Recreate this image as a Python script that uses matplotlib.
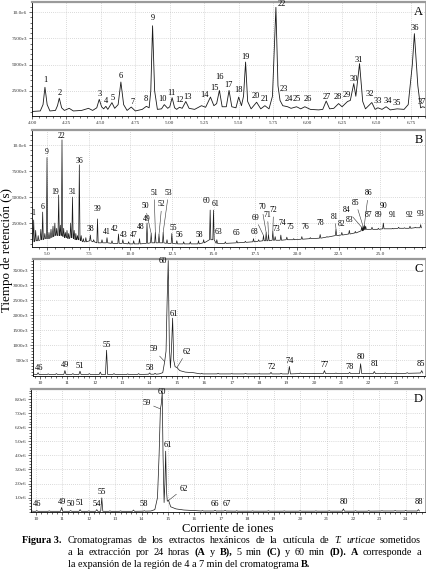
import matplotlib
matplotlib.use('Agg')
import matplotlib.pyplot as plt
from matplotlib.ticker import AutoMinorLocator

plt.rcParams.update({
    'font.family': 'Liberation Serif',
    'mathtext.fontset': 'custom',
    'mathtext.rm': 'Liberation Serif',
    'mathtext.it': 'Liberation Serif:italic',
    'mathtext.bf': 'Liberation Serif:bold',
})

# ---------------- datos (intensidad en millones) ----------------
# A: traza ampliada 4-7 min
a_t = [4.00, 4.06, 4.08, 4.094, 4.11, 4.13, 4.17, 4.185, 4.198, 4.215, 4.235, 4.27, 4.30, 4.36,
       4.41, 4.44, 4.47, 4.488, 4.505, 4.52, 4.536, 4.55, 4.58, 4.60, 4.625, 4.645, 4.665, 4.69,
       4.72, 4.75, 4.80, 4.83, 4.85, 4.862, 4.875, 4.89, 4.91, 4.94, 4.96, 4.985, 5.00, 5.017,
       5.035, 5.05, 5.07, 5.09, 5.116, 5.14, 5.18, 5.23, 5.26, 5.295, 5.32, 5.34, 5.36, 5.38,
       5.41, 5.43, 5.45, 5.48, 5.50, 5.52, 5.535, 5.55, 5.565, 5.59, 5.63, 5.66, 5.69, 5.72,
       5.745, 5.77, 5.785, 5.80, 5.82, 5.855, 5.88, 5.92, 5.95, 5.98, 6.02, 6.08, 6.11, 6.135,
       6.16, 6.19, 6.225, 6.25, 6.29, 6.31, 6.335, 6.35, 6.377, 6.40, 6.42, 6.466, 6.49, 6.51,
       6.54, 6.57, 6.60, 6.65, 6.70, 6.73, 6.76, 6.775, 6.80, 6.82, 6.835, 6.86]
a_v = [0.55, 0.60, 1.20, 2.85, 1.20, 0.60, 0.65, 1.10, 1.82, 0.90, 0.65, 0.85, 0.60, 0.65,
       0.85, 0.65, 0.90, 1.70, 1.00, 0.80, 1.04, 0.75, 1.39, 0.85, 1.20, 3.35, 1.20, 0.65,
       0.97, 0.60, 0.75, 1.04, 0.90, 2.50, 8.70, 2.50, 0.75, 0.80, 1.20, 0.85, 1.00, 1.86,
       0.90, 0.75, 0.95, 0.85, 1.50, 0.85, 0.75, 1.10, 0.95, 1.92, 1.10, 1.30, 2.55, 1.00,
       1.00, 2.55, 1.00, 0.90, 1.92, 1.10, 2.00, 5.25, 1.50, 0.80, 1.43, 0.80, 1.10, 0.80,
       2.00, 10.45, 3.00, 1.60, 1.10, 1.00, 0.85, 1.00, 0.80, 1.00, 0.75, 0.70, 0.75, 1.54,
       0.80, 0.85, 1.30, 1.00, 1.50, 1.60, 3.20, 2.00, 5.10, 1.50, 0.80, 1.40, 0.75, 0.90,
       0.75, 1.00, 0.70, 0.80, 0.75, 1.20, 5.00, 7.95, 3.00, 0.90, 1.00, 0.90]
a_lab = ['1', '2', '3', '4', '5', '6', '7', '8', '9', '10', '11', '12', '13', '14', '15', '16', '17',
         '18', '19', '20', '21', '22', '23', '24', '25', '26', '27', '28', '29', '30', '31', '32',
         '33', '34', '35', '36', '37']
a_lab_t = [4.094, 4.198, 4.488, 4.536, 4.589, 4.645, 4.727, 4.824, 4.874, 4.947, 5.012, 5.072,
           5.128, 5.254, 5.326, 5.362, 5.428, 5.497, 5.546, 5.623, 5.686, 5.811, 5.824, 5.86,
           5.921, 6.0, 6.138, 6.216, 6.284, 6.332, 6.375, 6.448, 6.513, 6.581, 6.651, 6.779, 6.828]
a_lab_v = [3.55, 2.34, 2.19, 1.55, 1.86, 3.96, 1.48, 1.71, 9.47, 1.71, 2.34, 1.65, 1.90, 2.12,
           2.76, 3.86, 3.07, 2.60, 5.70, 2.03, 1.71, 10.75, 2.66, 1.71, 1.74, 1.74, 1.96, 1.96,
           2.12, 3.64, 5.45, 2.19, 1.55, 1.55, 1.39, 8.46, 1.48]

# B: cromatograma completo (tiempo, maximo, linea base)
b_rt = [4.2, 4.32, 4.47, 4.63, 4.74, 4.87, 5.0, 5.12, 5.24, 5.36, 5.47, 5.58, 5.70, 5.80, 5.90,
        6.0, 6.1, 6.2, 6.3, 6.42, 6.53, 6.63, 6.73, 6.83, 6.94, 7.05, 7.18, 7.33, 7.6, 7.8, 8.03,
        8.3, 8.6, 8.9, 9.29, 9.55, 9.9, 10.2, 10.55, 11.0, 11.25, 11.5, 11.72, 11.97, 12.2, 12.49,
        12.79, 13.2, 13.6, 14.09, 14.4, 14.79, 14.99, 15.19, 15.7, 16.39, 16.9, 17.39, 17.7,
        17.99, 18.15, 18.29, 18.55, 18.69, 19.03, 19.39, 19.8, 20.29, 20.8, 21.39, 21.8, 22.34,
        22.69, 23.14, 23.5, 23.88, 23.96, 24.04, 24.12, 24.5, 24.88, 25.18, 25.74, 26.1, 26.45,
        26.78, 27.1, 27.42]
b_top = [2.8, 1.8, 1.3, 1.9, 3.56, 1.5, 8.8, 1.6, 1.9, 2.2, 2.5, 2.0, 5.2, 2.3, 10.5,
         2.0, 1.6, 1.8, 1.5, 2.5, 5.0, 1.8, 1.5, 1.3, 8.1, 1.3, 1.0, 1.1, 1.35, 0.9, 2.9,
         0.9, 1.1, 0.8, 1.45, 0.9, 0.7, 0.8, 1.0, 2.5, 1.5, 1.6, 1.4, 1.6, 0.9, 1.5,
         0.8, 0.7, 0.7, 0.8, 0.9, 3.75, 3.75, 0.9, 0.7, 0.8, 0.75, 1.0, 0.9,
         1.3, 1.6, 1.4, 1.7, 1.2, 1.35, 1.15, 1.0, 1.2, 1.1, 1.4, 1.2, 1.9,
         1.6, 1.8, 1.7, 2.1, 2.2, 2.3, 2.2, 2.1, 2.0, 2.5, 2.0, 2.1, 2.05,
         2.2, 2.1, 2.35]
b_base = [0.7, 0.8, 0.8, 0.9, 0.9, 1.0, 1.0, 1.0, 1.1, 1.2, 1.3, 1.3, 1.3, 1.3, 1.3,
          1.2, 1.1, 1.1, 1.0, 1.1, 1.1, 1.0, 0.9, 0.9, 0.9, 0.8, 0.7, 0.7, 0.8, 0.7, 0.6,
          0.6, 0.6, 0.55, 0.55, 0.55, 0.5, 0.5, 0.5, 0.55, 0.6, 0.6, 0.6, 0.6, 0.55, 0.55,
          0.5, 0.5, 0.5, 0.5, 0.6, 0.9, 0.9, 0.55, 0.55, 0.6, 0.65, 0.7, 0.75,
          0.8, 0.8, 0.8, 0.85, 0.85, 0.85, 0.9, 0.9, 0.95, 1.0, 1.05, 1.15, 1.3,
          1.35, 1.45, 1.55, 1.75, 1.8, 1.85, 1.9, 1.9, 1.9, 1.95, 1.95, 2.0, 2.0,
          2.0, 2.05, 2.05]
b_lab = ['1', '6', '9', '19', '22', '31', '36', '38', '39', '41', '42', '43', '47', '48', '49',
         '50', '51', '52', '53', '55', '56', '58', '60', '61', '63', '65', '68', '69', '70', '71',
         '72', '73', '74', '75', '76', '78', '81', '82', '83', '84', '85', '86', '87', '89', '90',
         '91', '92', '93']
b_lab_t = [4.20, 4.74, 5.0, 5.46, 5.90, 6.53, 6.94, 7.6, 8.03, 8.6, 9.05, 9.59, 10.19, 10.64, 11.0,
           10.89, 11.43, 11.89, 12.29, 12.55, 12.95, 14.15, 14.55, 15.09, 15.29, 16.39, 17.45, 17.49,
           17.89, 18.23, 18.59, 18.79, 19.15, 19.59, 20.49, 21.39, 22.28, 22.69, 23.18, 22.99, 23.53,
           24.28, 24.28, 24.88, 25.18, 25.74, 26.78, 27.42]
b_lab_v = [3.46, 4.0, 9.3, 5.5, 10.9, 5.5, 8.5, 1.9, 3.9, 1.6, 1.9, 1.35, 1.35, 2.1, 2.9,
           4.1, 5.4, 4.3, 5.4, 2.0, 1.4, 1.4, 4.6, 4.3, 1.6, 1.55, 1.6, 3.0,
           4.0, 3.3, 3.75, 1.9, 2.5, 2.1, 2.1, 2.5, 3.1, 2.4, 2.8, 3.75, 4.45,
           5.35, 3.3, 3.3, 4.1, 3.3, 3.3, 3.4]
# lineas guia: etiqueta -> pico
b_lead = {'50': (11.25, 1.5), '51': (11.5, 1.6), '52': (11.72, 1.4), '53': (11.97, 1.6),
          '69': (17.99, 1.3), '70': (18.15, 1.6), '71': (18.29, 1.4), '72': (18.55, 1.7),
          '81': (22.34, 1.9), '84': (23.88, 2.1), '85': (23.96, 2.2), '86': (24.04, 2.3)}

# C: extraccion 5 min
c_rt = [9.8, 9.93, 10.3, 10.6, 10.91, 11.2, 11.46, 11.8, 12.2, 12.43, 12.7, 13.2, 13.6, 14.0,
        14.2, 15.9, 16.5, 17.0, 17.5, 18.0, 18.43, 18.8, 19.1, 19.5, 20.0, 20.38, 20.8, 21.3,
        21.7, 22.2, 22.6, 23.0, 23.4, 23.93]
c_top = [0.03, 0.08, 0.04, 0.05, 0.15, 0.05, 0.13, 0.05, 0.10, 0.83, 0.05, 0.04, 0.05, 0.07,
         0.06, 0.06, 0.06, 0.05, 0.06, 0.05, 0.09, 0.06, 0.29, 0.07, 0.06, 0.15, 0.07, 0.09,
         0.38, 0.12, 0.07, 0.07, 0.08, 0.15]
c_base = [0.02, 0.02, 0.02, 0.02, 0.02, 0.02, 0.02, 0.02, 0.02, 0.02, 0.02, 0.02, 0.02, 0.03,
          0.03, 0.04, 0.04, 0.04, 0.04, 0.04, 0.04, 0.04, 0.04, 0.05, 0.05, 0.05, 0.05, 0.05,
          0.05, 0.05, 0.05, 0.05, 0.06, 0.07]
c_clu_t = [14.35, 14.48, 14.55, 14.60, 14.64, 14.68, 14.72, 14.76, 14.80, 14.84, 14.88, 14.93,
           15.0, 15.1, 15.3, 15.6]
c_clu_v = [0.04, 0.08, 0.45, 0.80, 2.50, 3.82, 1.00, 0.24, 0.90, 1.90, 0.50, 0.28,
           0.25, 0.15, 0.10, 0.08]
c_lab = ['46', '49', '51', '55', '58', '59', '60', '61', '62', '72', '74', '77', '78', '80', '81', '85']
c_lab_t = [9.96, 10.91, 11.46, 12.43, 14.0, 14.14, 14.5, 14.87, 15.35, 18.46, 19.1, 20.4, 21.3,
           21.7, 22.22, 23.9]
c_lab_v = [0.25, 0.34, 0.30, 1.00, 0.25, 0.86, 3.80, 2.04, 0.78, 0.27, 0.46, 0.33, 0.28, 0.61,
           0.38, 0.38]
c_lead = {'59': (14.55, 0.45), '62': (15.0, 0.25)}

# D: extraccion 60 min
d_rt = [9.85, 10.03, 10.5, 10.97, 11.31, 11.67, 12.0, 12.3, 12.49, 12.8, 13.2, 13.69, 14.1,
        16.3, 16.78, 17.16, 17.6, 18.2, 18.8, 19.4, 20.0, 20.6, 21.1, 21.64, 22.1, 22.6, 23.1,
        23.6, 24.0, 24.48]
d_top = [0.05, 0.08, 0.06, 0.30, 0.08, 0.15, 0.06, 0.15, 0.98, 0.06, 0.06, 0.12, 0.07,
         0.08, 0.10, 0.09, 0.07, 0.06, 0.07, 0.06, 0.07, 0.06, 0.07, 0.20, 0.07, 0.08, 0.07,
         0.08, 0.09, 0.15]
d_base = [0.03, 0.03, 0.03, 0.03, 0.03, 0.03, 0.03, 0.03, 0.03, 0.03, 0.03, 0.03, 0.04,
          0.05, 0.05, 0.05, 0.04, 0.04, 0.04, 0.04, 0.04, 0.04, 0.04, 0.04, 0.04, 0.04, 0.05,
          0.05, 0.05, 0.05]
d_clu_t = [14.35, 14.50, 14.60, 14.66, 14.71, 14.74, 14.78, 14.81, 14.85, 14.88, 14.91, 14.94,
           14.97, 15.02, 15.10, 15.30, 15.60, 16.00]
d_clu_v = [0.05, 0.15, 1.00, 4.00, 7.30, 7.60, 8.45, 4.00, 0.65, 2.00, 4.30, 1.50,
           0.75, 0.80, 0.35, 0.20, 0.12, 0.08]
d_lab = ['46', '49', '50', '51', '54', '55', '58', '59', '60', '61', '62', '66', '67', '80', '88']
d_lab_t = [10.03, 10.97, 11.31, 11.67, 12.3, 12.49, 14.1, 14.19, 14.78, 14.99, 15.58, 16.78,
           17.22, 21.67, 24.48]
d_lab_v = [0.55, 0.70, 0.55, 0.60, 0.55, 1.40, 0.55, 7.70, 8.50, 4.70, 1.64, 0.57, 0.57, 0.70, 0.70]
d_lead = {'59': (14.71, 7.3), '62': (15.02, 0.8)}

# leyenda: palabras de las lineas justificadas, (texto, estilo)
cap_l1 = [('Cromatogramas', 'n'), ('de', 'n'), ('los', 'n'), ('extractos', 'n'), ('hexánicos', 'n'),
          ('de', 'n'), ('la', 'n'), ('cutícula', 'n'), ('de', 'n'), ('T.', 'i'), ('urticae', 'i'),
          ('sometidos', 'n')]
cap_l2 = [('a', 'n'), ('la', 'n'), ('extracción', 'n'), ('por', 'n'), ('24', 'n'), ('horas', 'n'),
          ('(A', 'b'), ('y', 'n'), ('B),', 'b'), ('5', 'n'), ('min', 'n'), ('(C)', 'b'), ('y', 'n'),
          ('60', 'n'), ('min', 'n'), ('(D).', 'b'), ('A', 'b'), ('corresponde', 'n'), ('a', 'n')]
cap_l3 = 'la expansión de la región de 4 a 7 min del cromatograma'


def spike_trace(rt, top, base, w, extra_t=(), extra_v=()):
    pts = []
    for r, h, b in zip(rt, top, base):
        pts += [(r - w, b), (r, h), (r + w, b)]
    pts += list(zip(extra_t, extra_v))
    pts.sort()
    return [p[0] for p in pts], [p[1] for p in pts]


def style_axes(ax, xt, xtl, yt, ytl, xlim, ylim, letter):
    ax.set_xlim(*xlim)
    ax.set_ylim(*ylim)
    ax.set_xticks(xt)
    ax.set_xticklabels(xtl)
    ax.set_yticks(yt)
    ax.set_yticklabels(ytl)
    ax.xaxis.set_minor_locator(AutoMinorLocator(5))
    ax.yaxis.set_minor_locator(AutoMinorLocator(5))
    ax.tick_params(which='major', length=2.2, width=0.5, labelsize=3.8, pad=1.2, colors='#333333')
    ax.tick_params(which='minor', length=1.2, width=0.4)
    ax.grid(True, color='#b8b8b8', linestyle=(0, (1, 2)), linewidth=0.5)
    ax.spines['top'].set_color('#9a9a9a')
    ax.spines['top'].set_linewidth(1.6)
    ax.spines['right'].set_color('#9a9a9a')
    ax.spines['right'].set_linewidth(0.6)
    ax.spines['left'].set_linewidth(0.6)
    ax.spines['bottom'].set_linewidth(0.6)
    ax.text(0.995, 0.965, letter, transform=ax.transAxes, ha='right', va='top', fontsize=9)


def put_labels(ax, labs, lt, lv, leads, fs):
    for lab, t, v in zip(labs, lt, lv):
        if lab in leads:
            ax.annotate(lab, xy=leads[lab], xytext=(t, v), ha='center', va='center',
                        fontsize=fs, annotation_clip=False,
                        arrowprops=dict(arrowstyle='-', lw=0.4, color='#333333', shrinkA=0, shrinkB=0))
        else:
            ax.text(t, v, lab, ha='center', va='center', fontsize=fs, clip_on=False)


fig = plt.figure(figsize=(4.27, 5.80), dpi=100)
W, H = 427.0, 580.0
axA = fig.add_axes([32 / W, 1 - 116 / H, 393 / W, 114 / H])
axB = fig.add_axes([32 / W, 1 - 247 / H, 393 / W, 117 / H])
axC = fig.add_axes([33 / W, 1 - 376 / H, 392 / W, 117 / H])
axD = fig.add_axes([31 / W, 1 - 512 / H, 394 / W, 123 / H])

lc = '#1a1a1a'
ab_yt = [2.5, 5.0, 7.5, 10.0]
ab_ytl = ['2500e3', '5000e3', '7500e3', '10.0e6']

# A
axA.plot(a_t, a_v, color=lc, lw=0.6)
a_xt = [4.0 + 0.25 * i for i in range(12)]
style_axes(axA, a_xt, ['%.2f' % x for x in a_xt], ab_yt, ab_ytl, (4.0, 6.852), (0.12, 10.96), 'A')
put_labels(axA, a_lab, a_lab_t, a_lab_v, {}, 6)

# B
bt, bv = spike_trace(b_rt, b_top, b_base, 0.04)
axB.plot(bt, bv, color=lc, lw=0.5)
b_xt = [5.0 + 2.5 * i for i in range(9)]
style_axes(axB, b_xt, ['%.1f' % x for x in b_xt], ab_yt, ab_ytl, (4.1, 27.68), (0.2, 11.45), 'B')
put_labels(axB, b_lab, b_lab_t, b_lab_v, b_lead, 5.5)

# C
ct, cv = spike_trace(c_rt, c_top, c_base, 0.04, c_clu_t, c_clu_v)
axC.plot(ct, cv, color=lc, lw=0.5)
c_yt = [0.5 * i for i in range(1, 8)]
style_axes(axC, list(range(10, 24)), [str(x) for x in range(10, 24)], c_yt,
           ['%de3' % (500 * i) for i in range(1, 8)], (9.745, 24.05), (-0.03, 3.87), 'C')
put_labels(axC, c_lab, c_lab_t, c_lab_v, c_lead, 6)

# D
dt, dv = spike_trace(d_rt, d_top, d_base, 0.04, d_clu_t, d_clu_v)
axD.plot(dt, dv, color=lc, lw=0.5)
style_axes(axD, list(range(10, 25)), [str(x) for x in range(10, 25)], list(range(1, 9)),
           ['%d.0e6' % i for i in range(1, 9)], (9.81, 24.73), (-0.02, 8.71), 'D')
put_labels(axD, d_lab, d_lab_t, d_lab_v, d_lead, 6)

# etiquetas de los ejes (como en el original)
fig.text(7 / W, 1 - 250 / H, 'Tiempo de retención (s)', rotation=90, ha='center', va='center',
         fontsize=9.4)
fig.text(228 / W, 1 - 529 / H, 'Corriente de iones', ha='center', va='center', fontsize=9.0)

# leyenda de la figura, con lineas justificadas
cap = 7.3
fig.canvas.draw()
rend = fig.canvas.get_renderer()
STY = {'n': {}, 'i': {'style': 'italic'}, 'b': {'weight': 'bold'}}


def justify(words, x0, x1, ybase):
    arts = [fig.text(0, 1 - ybase / H, w, fontsize=cap, ha='left', va='baseline', **STY[s])
            for w, s in words]
    widths = [a.get_window_extent(rend).width for a in arts]
    gap = (x1 - x0 - sum(widths)) / (len(words) - 1)
    x = x0
    for a, w in zip(arts, widths):
        a.set_x(x / W)
        x += w + gap


fig.text(22 / W, 1 - 543 / H, 'Figura 3.', ha='left', va='baseline', fontsize=cap, weight='bold')
justify(cap_l1, 68, 421, 543)
justify(cap_l2, 68, 421, 555)
t3 = fig.text(68 / W, 1 - 567 / H, cap_l3 + ' ', ha='left', va='baseline', fontsize=cap)
x3 = 68 + t3.get_window_extent(rend).width
fig.text(x3 / W, 1 - 567 / H, 'B.', ha='left', va='baseline', fontsize=cap, weight='bold')

fig.savefig('out.png', dpi=100, facecolor='white')
